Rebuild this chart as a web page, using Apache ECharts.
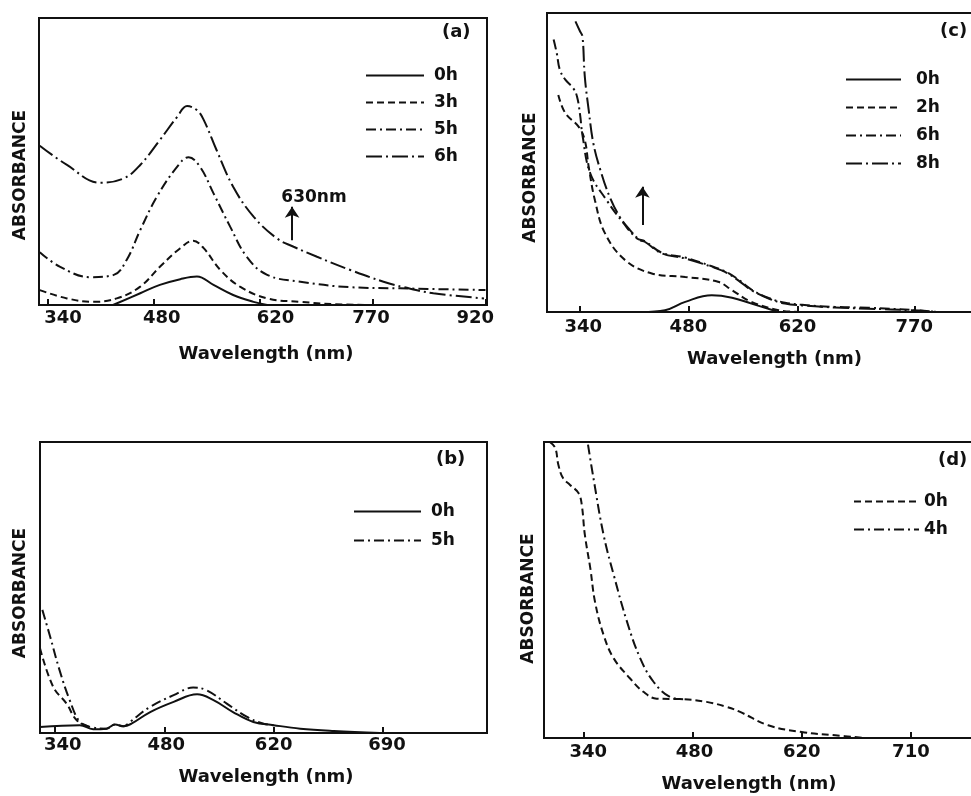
<!DOCTYPE html>
<html><head><meta charset="utf-8">
<script src="https://cdn.jsdelivr.net/npm/echarts@6/dist/echarts.min.js"></script>
<style>
html,body{margin:0;padding:0;background:#fff;overflow:hidden;width:971px;height:796px;position:relative;}
.p{position:absolute;left:0;top:0;width:1040px;height:796px;}
</style></head>
<body>
<div id="pa" class="p"></div><div id="pb" class="p"></div><div id="pc" class="p"></div><div id="pd" class="p"></div>
<script>
// ---------- data (x: wavelength on the printed axis scale, y: absorbance in % of panel height) ----------
// Panel (a)
const aTicks = [340, 480, 620, 770, 920];
const aLabels = ['340', '480', '620', '770', '920'];
const a0h = [[426,0],[462,4.1],[488,7.0],[515,9.0],[537,9.9],[559,7.0],[585,3.5],[612,1.1],[630,0]];
const a3h = [[329,5.2],[365,2.3],[400,1.1],[431,2.3],[462,6.4],[488,13.3],[515,19.8],[532,22.4],[546,19.8],[568,12.2],[594,6.4],[630,2.3],[674,1.1],[718,0.3],[762,0]];
const a5h = [[329,18.4],[356,13.3],[396,9.7],[427,10.5],[444,15.7],[462,26.1],[484,37.7],[511,48.2],[526,51.5],[541,48.2],[559,38.9],[581,27.3],[603,16.8],[630,10.5],[674,8.1],[740,6.2],[806,5.8],[919,5.2]];
const a6h = [[329,55.5],[365,48.8],[409,42.6],[440,44.1],[462,48.8],[488,57.5],[511,65.6],[524,69.3],[537,67.9],[546,64.5],[563,54.0],[585,41.2],[612,30.8],[643,23.2],[665,20.3],[696,16.8],[740,12.2],[784,8.1],[811,6.2],[850,4.1],[917,2.3]];
const aArrow = [[663,22.6],[663,34.2]];
const aNote = [692,37.3];

// Panel (b)
const bTicks = [340, 480, 620, 760];
const bLabels = ['340', '480', '620', '690'];
const b0h = [[321,2.1],[372,2.7],[389,1.3],[406,1.5],[417,2.9],[428,2.3],[438,3.2],[462,7.2],[492,10.7],[522,13.3],[543,11.3],[568,7.2],[594,3.8],[620,2.7],[654,1.5],[697,0.7],[756,0]];
const b5h = [[324,42.3],[334,33.1],[346,21.6],[359,11.3],[372,3.8],[385,2.1],[406,1.5],[417,2.9],[428,2.3],[436,3.8],[462,9.0],[492,13.0],[517,15.6],[534,14.7],[560,10.1],[586,5.5],[607,3.2],[620,2.7]];
const bOther = [[321,29.1],[338,15.8],[355,10.1],[368,4.4],[385,2.1]];

// Panel (c)
const cTicks = [340, 480, 620, 770];
const cLabels = ['340', '480', '620', '770'];
const c0h = [[420,0],[450,0.6],[476,3.4],[510,5.6],[536,4.8],[561,2.8],[596,0]];
const c2h = [[313,72.6],[322,66.5],[339,62.0],[347,57.5],[352,48.6],[360,37.4],[373,26.3],[399,17.3],[433,12.9],[476,11.7],[518,10.1],[536,7.3],[561,3.4],[596,0.6],[623,0]];
const c6h = [[307,91.1],[311,86.6],[315,81.0],[322,77.7],[332,74.9],[337,72.1],[341,65.9],[344,59.2],[354,46.4],[375,37.4],[397,29.6],[414,24.6],[424,23.7],[446,19.8],[476,18.2],[510,15.3],[527,13.6],[544,10.9],[561,7.5],[583,4.7],[604,3.1],[626,2.4],[668,1.7],[711,1.4],[767,0.7],[800,0]];
const c8h = [[335,97.2],[341,93.8],[344,92.2],[347,78.8],[352,67.6],[358,56.4],[367,47.5],[379,38.5],[392,31.8],[405,27.4],[418,24.0],[424,23.5],[446,19.6],[476,17.9],[510,15.1],[527,13.4],[544,10.6],[561,7.3],[583,4.5],[604,2.8],[626,2.2],[668,1.5],[711,1.1],[767,0.6],[801,0]];
const cArrow = [[421,29.1],[421,41.9]];

// Panel (d)
const dTicks = [340, 480, 620, 760];
const dLabels = ['340', '480', '620', '710'];
const d0h = [[297,100],[304,98.0],[308,92.3],[314,87.8],[323,85.5],[334,82.7],[338,78.8],[342,68.6],[349,57.3],[355,46.0],[366,34.8],[379,26.9],[400,20.1],[417,15.6],[434,13.3],[468,13.1],[498,12.2],[524,10.5],[541,8.8],[577,4.3],[620,2.0],[663,0.9],[701,0]];
const d4h = [[346,99.1],[353,87.8],[366,68.6],[379,55.1],[396,39.3],[413,26.9],[430,19.0],[451,13.9],[468,13.1]];

// ---------- styles ----------
const INK = '#111';
const FONT = 'DejaVu Sans';
const SOLID = 'solid';
const DASH = [7, 4];
const DASHDOT = [10, 4, 2, 4];
const LONGDASHDOT = [16, 4, 2, 4];

function line(name, data, type, extra) {
  return Object.assign({
    type: 'line', name: name, data: data, symbol: 'none', showSymbol: false,
    smooth: 0.4, silent: true,
    lineStyle: { color: INK, width: 2, type: type },
    itemStyle: { color: INK }
  }, extra || {});
}

function arrow(pts) {
  return {
    silent: true, symbol: ['none', 'arrow'], symbolSize: 11,
    lineStyle: { type: 'solid', color: INK, width: 2 },
    itemStyle: { color: INK },
    label: { show: false },
    data: [[{ coord: pts[0] }, { coord: pts[1] }]]
  };
}

// per-label horizontal nudge (label placement style, px)
function richShift(shifts) {
  const r = {};
  shifts.forEach(function (s, i) {
    r['t' + i] = { fontFamily: FONT, fontSize: 18, fontWeight: 'bold', color: INK,
      padding: s >= 0 ? [0, 0, 0, 2 * s] : [0, -2 * s, 0, 0] };
  });
  return r;
}

function panel(id, o) {
  const chart = echarts.init(document.getElementById(id), null, { renderer: 'canvas' });
  chart.setOption({
    animation: false,
    backgroundColor: 'transparent',
    title: { text: o.tag, left: o.tagPos[0], top: o.tagPos[1], padding: 0,
      textStyle: { fontFamily: FONT, fontSize: 18, fontWeight: 'bold', color: INK } },
    grid: { left: o.grid[0], top: o.grid[1], width: o.grid[2], height: o.grid[3],
      show: true, borderColor: INK, borderWidth: 2, backgroundColor: 'transparent',
      containLabel: false, outerBoundsMode: 'none' },
    legend: { orient: 'vertical', left: o.leg[0], top: o.leg[1], itemWidth: o.leg[2], itemHeight: 14,
      itemGap: o.leg[3], padding: 0, selectedMode: false, data: o.legendData,
      itemStyle: { color: 'rgba(0,0,0,0)', borderColor: 'rgba(0,0,0,0)', borderWidth: 0, opacity: 0 },
      textStyle: { fontFamily: FONT, fontSize: 17, fontWeight: 'bold', color: INK, lineHeight: 14,
        padding: [0, 0, 0, o.leg[4]] } },
    xAxis: {
      type: 'value', min: o.xMin, max: o.xMax,
      name: 'Wavelength (nm)', nameLocation: 'middle', nameGap: o.xNameGap,
      nameTextStyle: { fontFamily: FONT, fontSize: 18, fontWeight: 'bold', color: INK, padding: o.xNamePad },
      axisLine: { show: true, onZero: false, lineStyle: { color: INK, width: 2 } },
      axisTick: { show: true, inside: true, length: 6, customValues: o.ticks, lineStyle: { color: INK, width: 2 } },
      axisLabel: { customValues: o.ticks, margin: o.labMargin, fontFamily: FONT, fontSize: 18, fontWeight: 'bold', color: INK,
        rich: richShift(o.labShift),
        formatter: function (v) { const i = o.ticks.indexOf(v); return i >= 0 ? '{t' + i + '|' + o.labels[i] + '}' : ''; } },
      splitLine: { show: false }
    },
    yAxis: {
      type: 'value', min: 0, max: 100,
      name: 'ABSORBANCE', nameLocation: 'middle', nameGap: o.yNameGap,
      nameTextStyle: { fontFamily: FONT, fontSize: 17, fontWeight: 'bold', color: INK, padding: o.yNamePad },
      axisLine: { show: true, lineStyle: { color: INK, width: 2 } },
      axisTick: { show: false }, axisLabel: { show: false }, splitLine: { show: false }
    },
    series: o.series
  });
}

panel('pa', {
  tag: '(a)', tagPos: [442, 23],
  grid: [39, 18, 448, 287],
  leg: [365, 67, 58, 10, 5], legendData: ['0h', '3h', '5h', '6h'],
  xMin: 328, xMax: 921, ticks: aTicks, labels: aLabels, labMargin: 4, labShift: [15, 8, 16, -2, -11],
  xNameGap: 40, xNamePad: [0, 0, 0, 6],
  yNameGap: 10, yNamePad: [0, 27, 0, 0],
  series: [
    line('0h', a0h, SOLID),
    line('3h', a3h, DASH),
    line('5h', a5h, DASHDOT),
    line('6h', a6h, LONGDASHDOT, {
      markLine: arrow(aArrow),
      markPoint: { silent: true, symbol: 'circle', symbolSize: 1, itemStyle: { color: 'rgba(0,0,0,0)' },
        label: { show: true, position: 'inside', formatter: '630nm', color: INK, fontFamily: FONT, fontSize: 17, fontWeight: 'bold' },
        data: [{ coord: aNote }] }
    })
  ]
});

panel('pb', {
  tag: '(b)', tagPos: [436, 450],
  grid: [40, 442, 447, 291],
  leg: [353, 503, 67, 12, 5], legendData: ['0h', '5h'],
  xMin: 321, xMax: 893, ticks: bTicks, labels: bLabels, labMargin: 3, labShift: [8, 2, 0, 4],
  xNameGap: 35, xNamePad: [0, 0, 0, 5],
  yNameGap: 11, yNamePad: [0, 11, 0, 0],
  series: [
    line('0h', b0h, SOLID),
    line('5h', b5h, DASHDOT),
    line('other', bOther, DASH)
  ]
});

panel('pc', {
  tag: '(c)', tagPos: [940, 22],
  grid: [547, 13, 453, 299],
  leg: [845, 71, 55, 11, 10], legendData: ['0h', '2h', '6h', '8h'],
  xMin: 298.5, xMax: 880, ticks: cTicks, labels: cLabels, labMargin: 6, labShift: [4, 0, 0, 0],
  xNameGap: 38, xNamePad: [0, 0, 0, 2],
  yNameGap: 8, yNamePad: [0, 30, 0, 0],
  series: [
    line('0h', c0h, SOLID),
    line('2h', c2h, DASH),
    line('6h', c6h, DASHDOT, { markLine: arrow(cArrow) }),
    line('8h', c8h, LONGDASHDOT)
  ]
});

panel('pd', {
  tag: '(d)', tagPos: [938, 451],
  grid: [544, 442, 446, 296],
  leg: [853, 493, 65, 11, 0], legendData: ['0h', '4h'],
  xMin: 289.6, xMax: 861.4, ticks: dTicks, labels: dLabels, labMargin: 5, labShift: [5, 2, 0, 0],
  xNameGap: 37, xNamePad: [0, 36, 0, 0],
  yNameGap: 7, yNamePad: [0, 17, 0, 0],
  series: [
    line('0h', d0h, DASH),
    line('4h', d4h, DASHDOT)
  ]
});
</script>
</body></html>
